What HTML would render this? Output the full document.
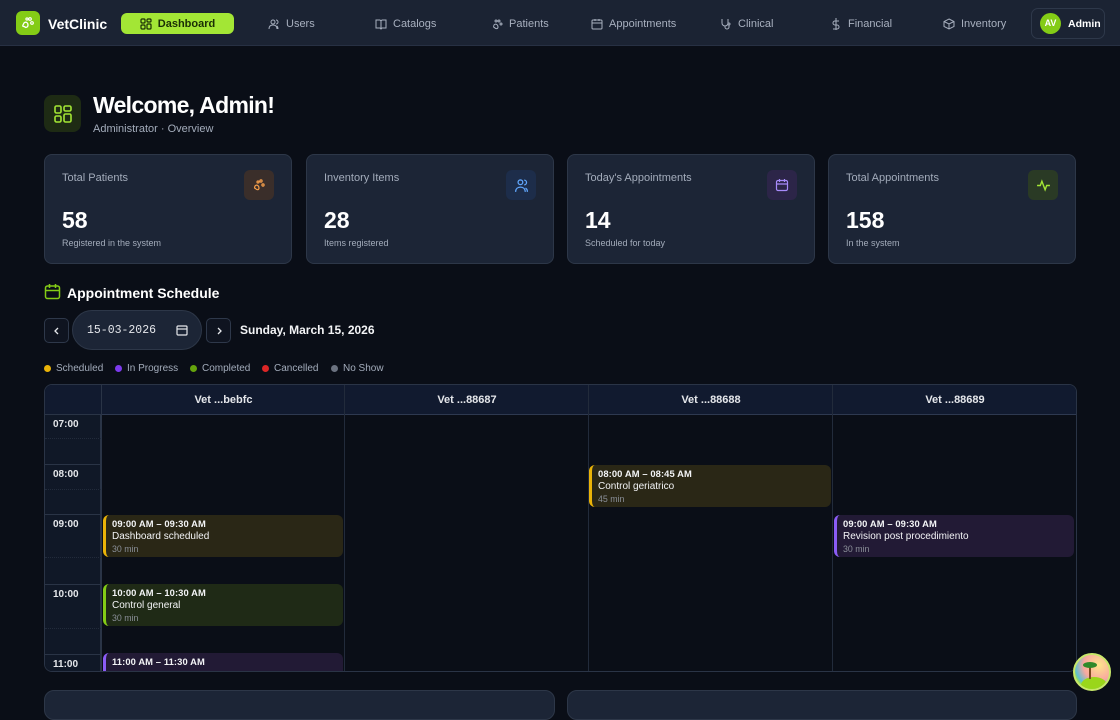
<!DOCTYPE html>
<html><head><meta charset="utf-8">
<style>
*{box-sizing:border-box;margin:0;padding:0}
body{width:1120px;height:700px;overflow:hidden;background:#0a0e17;font-family:"Liberation Sans",sans-serif;color:#e5e7eb;position:relative}
.abs{position:absolute}
.nav{position:absolute;left:0;top:0;width:1120px;height:46px;background:#1b2333;border-bottom:1px solid #273043}
.logo{left:16px;top:11px;width:24px;height:24px;border-radius:6px;background:#84cc16}
.brand{left:48px;top:16px;font-size:14px;font-weight:bold;color:#fff}
.dash{left:121px;top:13px;width:113px;height:21px;border-radius:6px;background:#a3e635;color:#1a2e05;font-size:11px;font-weight:bold}
.ni{top:18px;font-size:11px;color:#a8b0bf;display:flex;align-items:center;gap:6px}
.ni svg{width:12px;height:12px}
.admin{left:1031px;top:8px;width:74px;height:31px;border:1px solid #2e384a;border-radius:7px}
.av{left:8px;top:4px;width:21px;height:21px;border-radius:50%;background:#84cc16;color:#fff;font-size:9px;font-weight:bold;text-align:center;line-height:21px}
.card{position:absolute;top:154px;width:248px;height:110px;background:#1c2536;border:1px solid #2d3748;border-radius:8px}
.card .lb{position:absolute;left:17px;top:17px;font-size:11px;color:#a3acbb}
.card .ic{position:absolute;right:17px;top:15px;width:30px;height:30px;border-radius:6px;display:flex;align-items:center;justify-content:center}
.card .num{position:absolute;left:17px;top:52px;font-size:23px;font-weight:bold;color:#fff}
.card .sub{position:absolute;left:17px;top:83px;font-size:9px;color:#a3acbb}
.btn{position:absolute;width:25px;height:25px;border:1px solid #2e384a;border-radius:5px;background:#0f1420;display:flex;align-items:center;justify-content:center}
.leg{position:absolute;top:363px;font-size:10px;color:#a3acbb;display:flex;align-items:center;gap:5px}
.leg i{display:inline-block;width:7px;height:7px;border-radius:50%}
.grid{position:absolute;left:44px;top:384px;width:1033px;height:288px;border:1px solid #2a3446;border-radius:8px;overflow:hidden;background:#0a0e17}
.hdr{position:absolute;left:0;top:0;width:100%;height:30px;background:#111a2f;border-bottom:1px solid #2e3950}
.vh{position:absolute;top:0;height:30px;line-height:30px;text-align:center;font-size:11px;font-weight:bold;color:#e5e7eb}
.vl{position:absolute;top:0;width:1px;height:100%;background:#222b3b}
.tc{position:absolute;left:0;top:30px;width:56px;height:260px;background:#101827;border-right:1px solid #2a3446}
.tr{position:absolute;left:0;width:56px;border-top:1px solid #2a3446}
.tr span{position:absolute;left:8px;top:4px;font-size:10px;font-weight:bold;color:#e5e7eb}
.tr b{position:absolute;left:0;width:56px;border-top:1px dotted #222b3b}
.ev{position:absolute;border-radius:6px;border-left:3px solid;padding:3px 0 0 6px}
.ev .t{font-size:9.4px;font-weight:bold;color:#f3f4f6;letter-spacing:.1px}
.ev .n{font-size:10px;color:#f3f4f6;margin-top:2px}
.ev .d{font-size:8.8px;color:#8a8f98;margin-top:2px}
.bc{position:absolute;top:690px;height:30px;background:#1c2536;border:1px solid #2d3748;border-radius:10px}
</style></head><body>
<div class="nav">
  <div class="abs logo"><svg width="24" height="24" viewBox="0 0 24 24"><path d="M8 12c2-2 4 0 4 2s-2 3-3 2-3 0-2-2z" fill="none" stroke="#fff" stroke-width="1.3"/><circle cx="14" cy="8" r="1.3" fill="none" stroke="#fff" stroke-width="1.2"/><circle cx="16" cy="12" r="1.3" fill="none" stroke="#fff" stroke-width="1.2"/><circle cx="11" cy="8" r="1.1" fill="none" stroke="#fff" stroke-width="1.1"/></svg></div>
  <div class="abs brand">VetClinic</div>
  <div class="abs dash" style="display:flex;align-items:center;justify-content:center;gap:6px"><svg width="12" height="12" viewBox="0 0 12 12" fill="none" stroke="#1a2e05" stroke-width="1.2"><rect x="1" y="1" width="4" height="4" rx="1"/><rect x="7" y="1" width="4" height="3" rx="1"/><rect x="1" y="7" width="4" height="4" rx="1"/><rect x="7" y="6" width="4" height="5" rx="1"/></svg>Dashboard</div>
  <div class="abs ni" style="left:268px"><svg viewBox="0 0 12 12" fill="none" stroke="#a8b0bf" stroke-width="1"><circle cx="5" cy="4" r="2"/><path d="M1 11c0-3 2-4 4-4s4 1 4 4M8 2a2 2 0 010 4M10 11c0-2-1-3-1-3"/></svg>Users</div>
  <div class="abs ni" style="left:375px"><svg viewBox="0 0 12 12" fill="none" stroke="#a8b0bf" stroke-width="1"><path d="M1 2h4l1 1 1-1h4v8H7l-1 1-1-1H1z M6 3v8"/></svg>Catalogs</div>
  <div class="abs ni" style="left:491px"><svg viewBox="0 0 12 12" fill="none" stroke="#a8b0bf" stroke-width="1"><path d="M3 7c2-2 4 0 4 2s-2 2-3 1-2 0-1-3z"/><circle cx="8" cy="3" r="1"/><circle cx="10" cy="6" r="1"/><circle cx="5" cy="3" r="1"/></svg>Patients</div>
  <div class="abs ni" style="left:591px"><svg viewBox="0 0 12 12" fill="none" stroke="#a8b0bf" stroke-width="1"><rect x="1" y="2" width="10" height="9" rx="1"/><path d="M1 5h10M4 1v2M8 1v2"/></svg>Appointments</div>
  <div class="abs ni" style="left:720px"><svg viewBox="0 0 12 12" fill="none" stroke="#a8b0bf" stroke-width="1"><path d="M2 1v4a3 3 0 006 0V1M5 8v1a2 2 0 004 0V7"/><circle cx="9" cy="6" r="1"/></svg>Clinical</div>
  <div class="abs ni" style="left:830px"><svg viewBox="0 0 12 12" fill="none" stroke="#a8b0bf" stroke-width="1"><path d="M6 0v12M9 3H5a2 2 0 000 4h2a2 2 0 010 4H3"/></svg>Financial</div>
  <div class="abs ni" style="left:943px"><svg viewBox="0 0 12 12" fill="none" stroke="#a8b0bf" stroke-width="1"><path d="M6 1l5 2.5v5L6 11 1 8.5v-5zM1 3.5L6 6l5-2.5M6 6v5"/></svg>Inventory</div>
  <div class="abs admin"><div class="abs av">AV</div><div class="abs" style="left:36px;top:9px;font-size:10.5px;font-weight:bold;color:#fff">Admin</div></div>
</div>

<div class="abs" style="left:44px;top:95px;width:37px;height:37px;border-radius:8px;background:#1e2b14;display:flex;align-items:center;justify-content:center"><svg width="20" height="20" viewBox="0 0 20 20" fill="none" stroke="#a3e635" stroke-width="1.6"><rect x="2" y="2" width="6" height="7" rx="1.5"/><rect x="11" y="2" width="7" height="5" rx="1.5"/><rect x="2" y="12" width="6" height="6" rx="1.5"/><rect x="11" y="10" width="7" height="8" rx="1.5"/></svg></div>
<div class="abs" style="left:93px;top:92px;font-size:23px;font-weight:bold;color:#fff;letter-spacing:-0.7px">Welcome, Admin!</div>
<div class="abs" style="left:93px;top:123px;font-size:11px;color:#a3acbb">Administrator · Overview</div>

<div class="card" style="left:44px"><div class="lb">Total Patients</div><div class="ic" style="background:#3a2e2a"><svg width="14" height="14" viewBox="0 0 14 14" fill="none" stroke="#f59e4a" stroke-width="1.2"><path d="M3 8c2-2 4 0 4 2s-2 2-3 1-2 0-1-3z"/><circle cx="9" cy="3" r="1.1"/><circle cx="11" cy="7" r="1.1"/><circle cx="6" cy="4" r="1"/></svg></div><div class="num">58</div><div class="sub">Registered in the system</div></div>
<div class="card" style="left:306px"><div class="lb">Inventory Items</div><div class="ic" style="background:#1d2d4a"><svg width="15" height="15" viewBox="0 0 14 14" fill="none" stroke="#60a5fa" stroke-width="1.2"><circle cx="6" cy="4" r="2.2"/><path d="M1.5 13c0-3 2-4.5 4.5-4.5s4.5 1.5 4.5 4.5M9.5 2a2.2 2.2 0 010 4.4M12.5 13c0-2-1-3.2-1.8-3.6"/></svg></div><div class="num">28</div><div class="sub">Items registered</div></div>
<div class="card" style="left:567px"><div class="lb">Today's Appointments</div><div class="ic" style="background:#2c2548"><svg width="14" height="14" viewBox="0 0 14 14" fill="none" stroke="#a78bfa" stroke-width="1.2"><rect x="1.5" y="2.5" width="11" height="10" rx="1.5"/><path d="M1.5 6h11M4.5 1v3M9.5 1v3"/></svg></div><div class="num">14</div><div class="sub">Scheduled for today</div></div>
<div class="card" style="left:828px"><div class="lb">Total Appointments</div><div class="ic" style="background:#2a3a25"><svg width="15" height="15" viewBox="0 0 14 14" fill="none" stroke="#a3e635" stroke-width="1.3"><path d="M1 7h3l1.5-4 3 8L10 7h3"/></svg></div><div class="num">158</div><div class="sub">In the system</div></div>

<svg class="abs" style="left:44px;top:283px" width="17" height="17" viewBox="0 0 17 17" fill="none" stroke="#84cc16" stroke-width="1.5"><rect x="1.5" y="3" width="14" height="12.5" rx="2"/><path d="M1.5 7.5h14M5.5 1v4M11.5 1v4"/></svg>
<div class="abs" style="left:67px;top:285px;font-size:14px;font-weight:bold;color:#fff">Appointment Schedule</div>

<div class="btn" style="left:44px;top:318px"><svg width="8" height="8" viewBox="0 0 8 8" fill="none" stroke="#e5e7eb" stroke-width="1.3"><path d="M5 1L2 4l3 3"/></svg></div>
<div class="abs" style="left:72px;top:310px;width:130px;height:40px;border-radius:20px;background:#1c2536;border:1px solid #2d3748"><div class="abs" style="left:14px;top:13px;font-family:'Liberation Mono',monospace;font-size:11.5px;color:#e5e7eb">15-03-2026</div><svg class="abs" style="left:103px;top:13px" width="12" height="12" viewBox="0 0 12 12" fill="none" stroke="#e5e7eb" stroke-width="1.2"><rect x="1" y="2" width="10" height="9" rx="1"/><path d="M1 5h10"/></svg></div>
<div class="btn" style="left:206px;top:318px"><svg width="8" height="8" viewBox="0 0 8 8" fill="none" stroke="#e5e7eb" stroke-width="1.3"><path d="M3 1l3 3-3 3"/></svg></div>
<div class="abs" style="left:240px;top:323px;font-size:12px;font-weight:bold;color:#f3f4f6">Sunday, March 15, 2026</div>

<div class="leg" style="left:44px"><i style="background:#eab308"></i>Scheduled</div>
<div class="leg" style="left:115px"><i style="background:#7c3aed"></i>In Progress</div>
<div class="leg" style="left:190px"><i style="background:#65a30d"></i>Completed</div>
<div class="leg" style="left:262px"><i style="background:#dc2626"></i>Cancelled</div>
<div class="leg" style="left:331px"><i style="background:#6b7280"></i>No Show</div>

<div class="grid">
  <div class="hdr"></div>
  <div class="vh" style="left:57px;width:243px">Vet ...bebfc</div>
  <div class="vh" style="left:300px;width:244px">Vet ...88687</div>
  <div class="vh" style="left:544px;width:244px">Vet ...88688</div>
  <div class="vh" style="left:788px;width:244px">Vet ...88689</div>
  <div class="vl" style="left:56px;background:#2a3446"></div>
  <div class="vl" style="left:299px"></div>
  <div class="vl" style="left:543px"></div>
  <div class="vl" style="left:787px"></div>
  <div class="tc">
    <div class="tr" style="top:-1px;height:50px"><span>07:00</span><b style="top:23px"></b></div>
    <div class="tr" style="top:49px;height:50px"><span>08:00</span><b style="top:24px"></b></div>
    <div class="tr" style="top:99px;height:70px"><span>09:00</span><b style="top:42px"></b></div>
    <div class="tr" style="top:169px;height:70px"><span>10:00</span><b style="top:43px"></b></div>
    <div class="tr" style="top:239px;height:30px"><span>11:00</span></div>
  </div>
  <div class="ev" style="left:58px;top:130px;width:240px;height:42px;background:#2a2716;border-color:#eab308"><div class="t">09:00 AM – 09:30 AM</div><div class="n">Dashboard scheduled</div><div class="d">30 min</div></div>
  <div class="ev" style="left:58px;top:199px;width:240px;height:42px;background:#1f2a16;border-color:#84cc16"><div class="t">10:00 AM – 10:30 AM</div><div class="n">Control general</div><div class="d">30 min</div></div>
  <div class="ev" style="left:58px;top:268px;width:240px;height:42px;background:#221a35;border-color:#8b5cf6"><div class="t">11:00 AM – 11:30 AM</div></div>
  <div class="ev" style="left:544px;top:80px;width:242px;height:42px;background:#2a2716;border-color:#eab308"><div class="t">08:00 AM – 08:45 AM</div><div class="n">Control geriatrico</div><div class="d">45 min</div></div>
  <div class="ev" style="left:789px;top:130px;width:240px;height:42px;background:#221a35;border-color:#8b5cf6"><div class="t">09:00 AM – 09:30 AM</div><div class="n">Revision post procedimiento</div><div class="d">30 min</div></div>
</div>

<div class="bc" style="left:44px;width:511px"></div>
<div class="bc" style="left:567px;width:510px"></div>

<div class="abs" style="left:1073px;top:653px;width:38px;height:38px;border-radius:50%;background:radial-gradient(circle at 70% 30%,#fde68a,#f9a8a0 45%,#60c0d0 70%,#a3e635 80%);border:2px solid #c8e86a;overflow:hidden"><div class="abs" style="left:6px;top:22px;width:26px;height:16px;border-radius:50%;background:#9ad61a"></div><div class="abs" style="left:14px;top:10px;width:2px;height:14px;background:#7a4a20"></div><div class="abs" style="left:8px;top:7px;width:14px;height:6px;border-radius:50%;background:#2f8a2a"></div></div>
</body></html>
